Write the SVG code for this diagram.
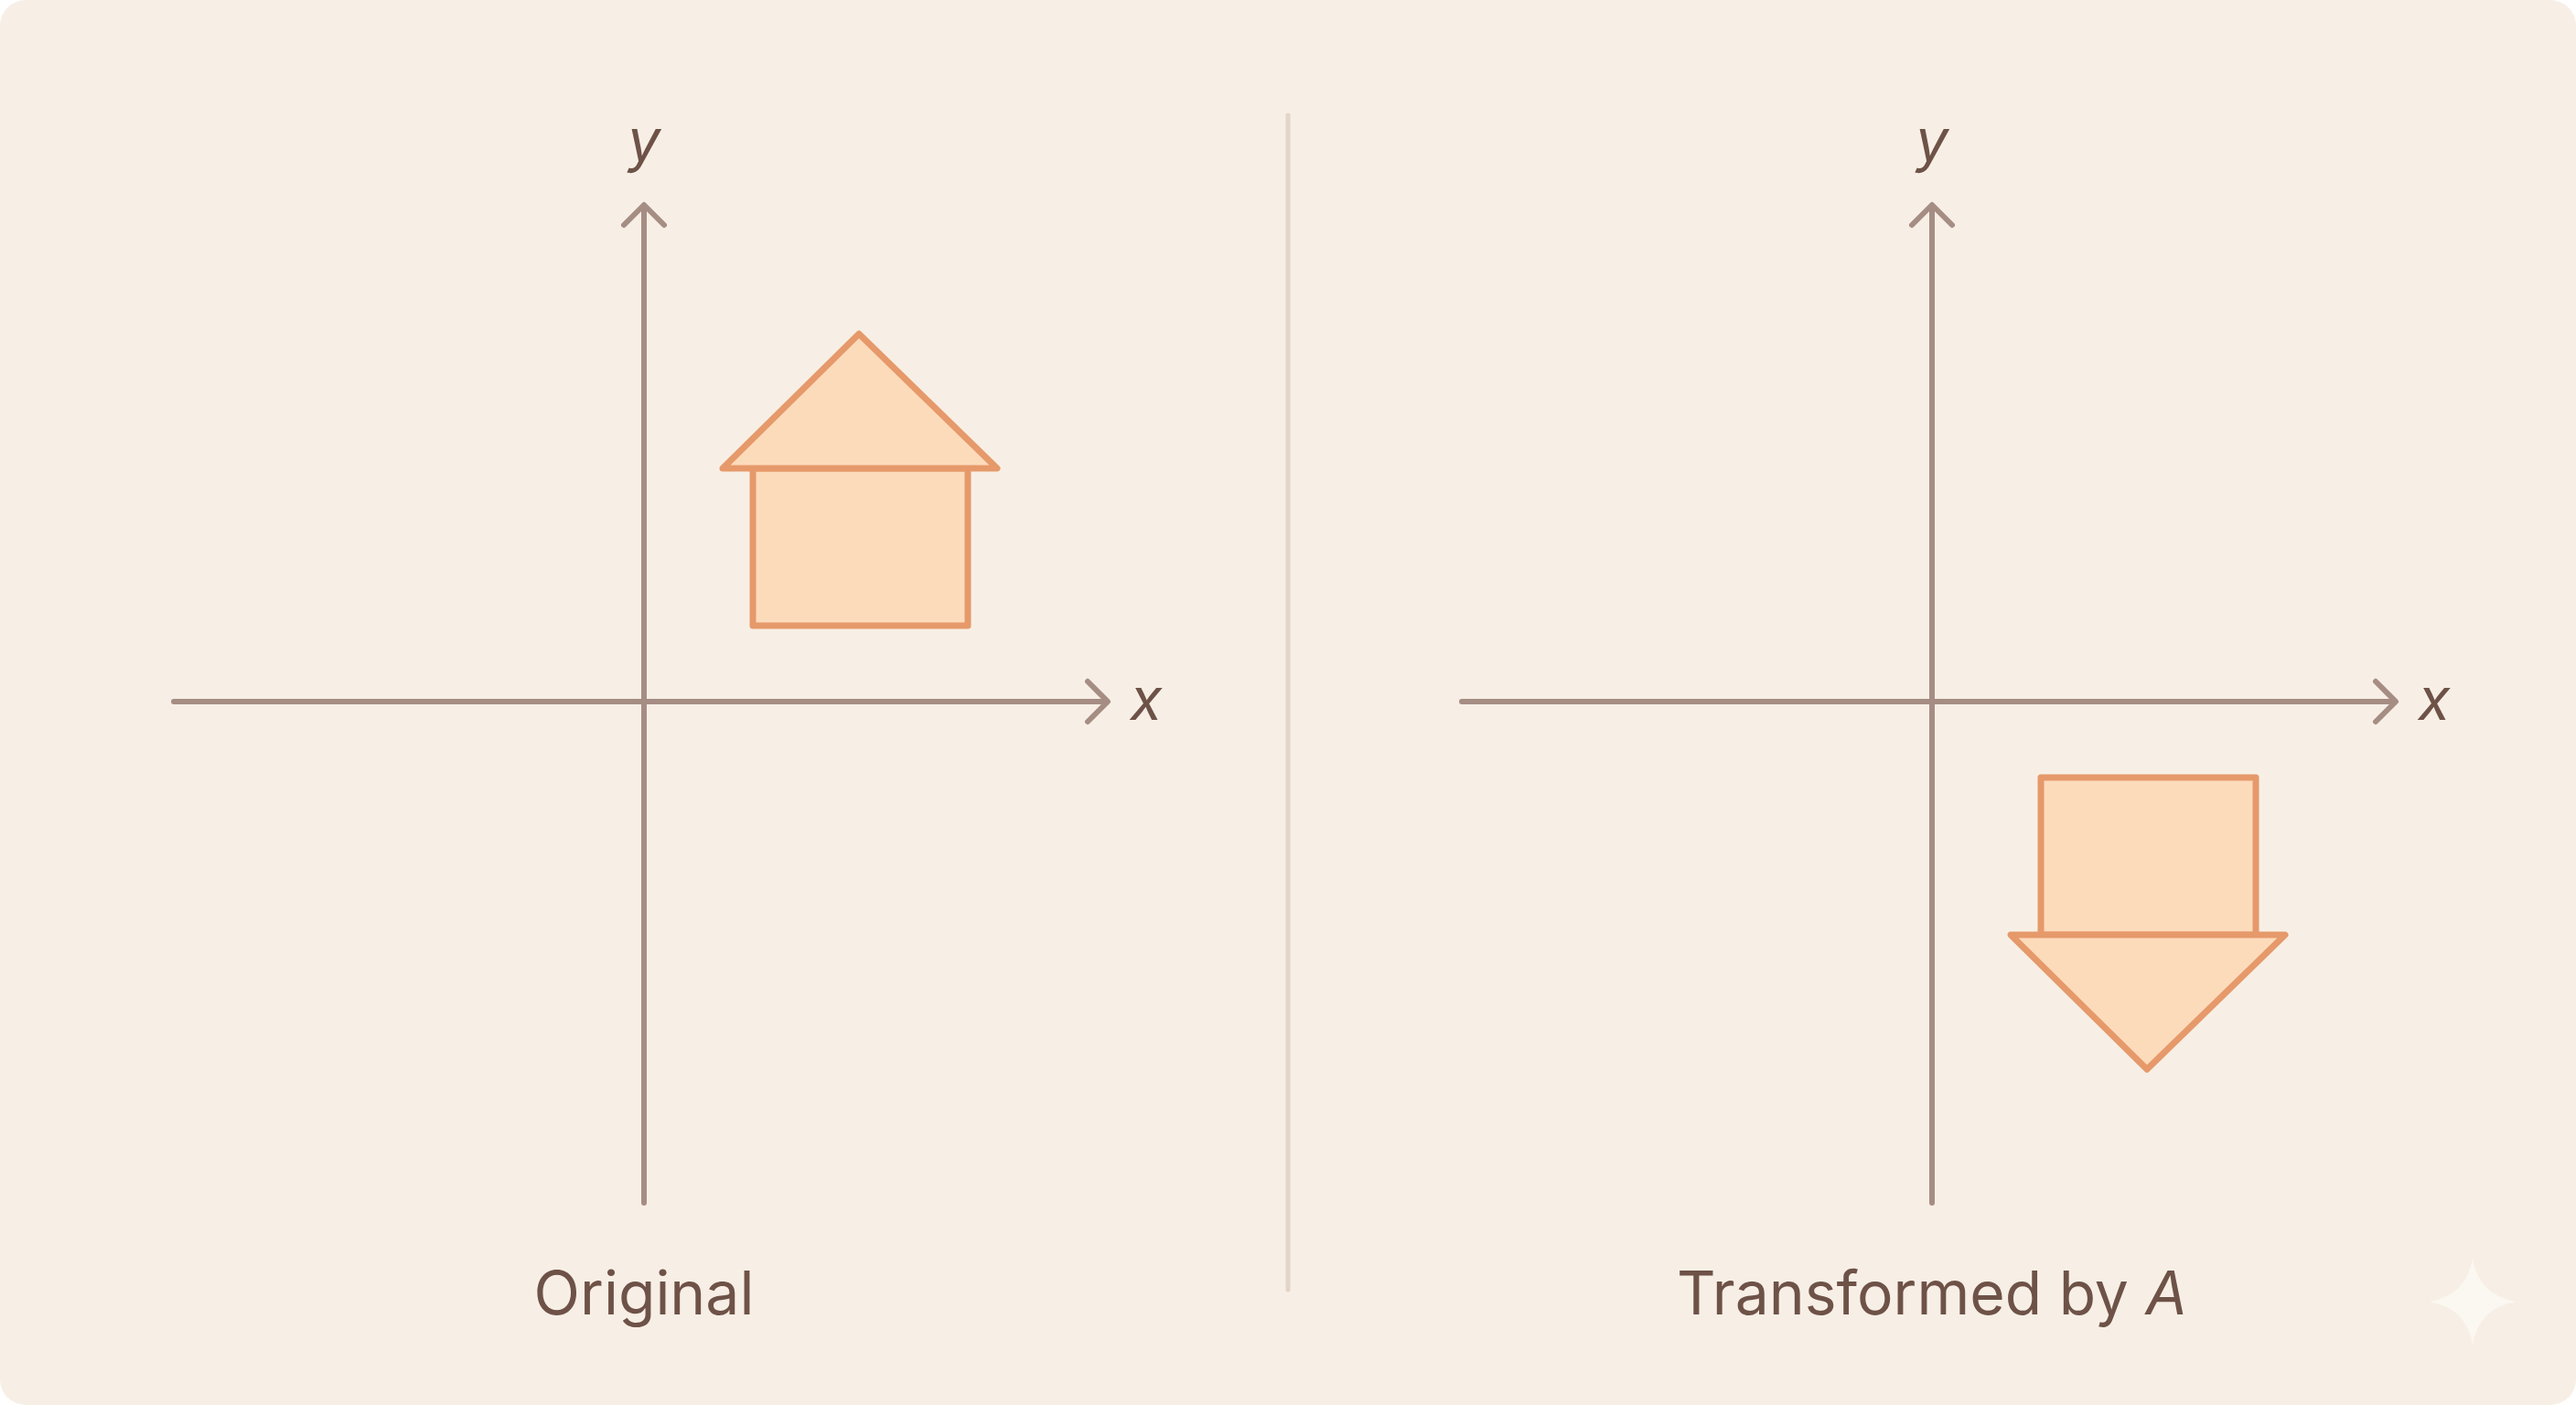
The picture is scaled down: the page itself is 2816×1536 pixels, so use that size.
<svg xmlns="http://www.w3.org/2000/svg" width="2816" height="1536" viewBox="0 0 2816 1536">
  <defs>
    <style>
      .axis { stroke: #A68D84; stroke-width: 6; fill: none; stroke-linecap: round; stroke-linejoin: round; }
      .shape { fill: #FCDBBB; stroke: #E6996A; stroke-width: 7; stroke-linejoin: round; }
      .lbl { font-family: Inter, "Liberation Sans", sans-serif; fill: #6E5248; }
      .var { font-family: Inter, "Liberation Sans", sans-serif; font-style: italic; fill: #6E5248; font-size: 64px; }
    </style>
  </defs>
  <rect x="0" y="0" width="2816" height="1536" fill="#FFFFFF"/>
  <rect x="0" y="0" width="2816" height="1536" rx="28" fill="#F7EFE5"/>
  <line x1="1408" y1="126" x2="1408" y2="1410" stroke="#E2D4C6" stroke-width="5" stroke-linecap="round"/>

  <g id="connectors">
    <g id="left-axes">
      <line class="axis" x1="704" y1="1315" x2="704" y2="226"/>
      <polyline class="axis" points="682,246 704,224 726,246"/>
      <line class="axis" x1="190" y1="767" x2="1210" y2="767"/>
      <polyline class="axis" points="1189,745 1211,767 1189,789"/>
    </g>
    <g id="right-axes">
      <line class="axis" x1="2112" y1="1315" x2="2112" y2="226"/>
      <polyline class="axis" points="2090,246 2112,224 2134,246"/>
      <line class="axis" x1="1598" y1="767" x2="2618" y2="767"/>
      <polyline class="axis" points="2597,745 2619,767 2597,789"/>
    </g>
  </g>

  <g id="left-labels">
    <text class="var" x="704" y="176" text-anchor="middle">y</text>
    <text class="var" x="1253" y="787" text-anchor="middle">x</text>
  </g>
  <g id="right-labels">
    <text class="var" x="2112" y="176" text-anchor="middle">y</text>
    <text class="var" x="2661" y="787" text-anchor="middle">x</text>
  </g>

  <g id="house-original">
    <rect class="shape" x="823" y="512" width="235" height="172"/>
    <polygon class="shape" points="790,512 939,365 1090,512"/>
  </g>

  <g id="house-transformed">
    <rect class="shape" x="2231" y="850" width="235" height="172"/>
    <polygon class="shape" points="2198,1022 2347,1169 2498,1022"/>
  </g>

  <g id="caption-original">
    <text class="lbl" x="704" y="1437" font-size="66" text-anchor="middle">Original</text>
  </g>
  <g id="caption-transformed">
    <text class="lbl" x="2112" y="1437" font-size="66" text-anchor="middle">Transformed by <tspan font-style="italic">A</tspan></text>
  </g>

  <path d="M2703,1376 Q2710,1416 2750,1423 Q2710,1430 2703,1470 Q2696,1430 2656,1423 Q2696,1416 2703,1376 Z" fill="#FBF7F1"/>
</svg>
